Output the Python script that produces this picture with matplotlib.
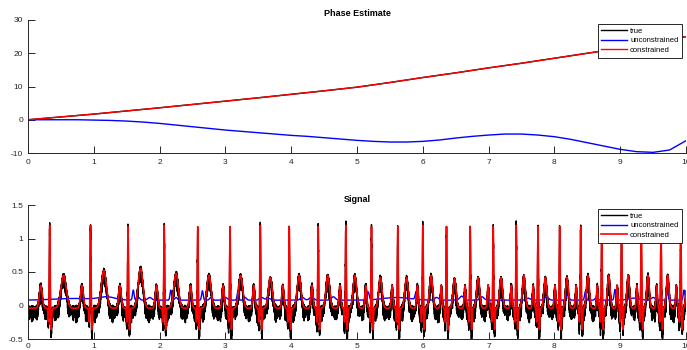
import numpy as np
import matplotlib.pyplot as plt

plt.rcParams['font.family'] = ['Liberation Sans', 'DejaVu Sans']
plt.rcParams['axes.unicode_minus'] = False

# ---- Phase Estimate (top panel) ----
phase_t = [0, 0.5, 1, 1.5, 2, 2.5, 3, 3.5, 4, 4.5, 5,
           5.5, 6, 6.5, 7, 7.5, 8, 8.5, 9, 9.5, 10]
true_phase = [0, 0.85, 1.7, 2.65, 3.6, 4.6, 5.6, 6.6, 7.65, 8.7, 9.8,
              11.2, 12.7, 14.1, 15.6, 17.0, 18.5, 20.0, 21.5, 23.2, 25.0]
constrained_phase = [0, 0.85, 1.7, 2.65, 3.6, 4.6, 5.6, 6.6, 7.65, 8.7, 9.8,
                     11.2, 12.7, 14.1, 15.6, 17.0, 18.5, 20.0, 21.5, 23.2, 25.0]
unc_t = [0, 0.25, 0.5, 0.75, 1, 1.25, 1.5, 1.75, 2, 2.25, 2.5, 2.75, 3, 3.25,
         3.5, 3.75, 4, 4.25, 4.5, 4.75, 5, 5.25, 5.5, 5.75, 6, 6.25, 6.5, 6.75,
         7, 7.25, 7.5, 7.75, 8, 8.25, 8.5, 8.75, 9, 9.25, 9.5, 9.75, 10]
unconstrained_phase = [0, 0, 0, 0, -0.1, -0.2, -0.4, -0.7, -1.1, -1.6, -2.1, -2.6,
                       -3.1, -3.5, -3.9, -4.3, -4.7, -5.0, -5.4, -5.8, -6.2, -6.5,
                       -6.7, -6.7, -6.5, -6.1, -5.5, -5.0, -4.6, -4.3, -4.3, -4.6,
                       -5.1, -5.9, -6.9, -7.9, -8.9, -9.6, -9.8, -9.1, -6.3]

# ---- Signal (bottom panel) ----
# R-peak times and heights of each beat
r_times = [0.33, 0.95, 1.52, 2.07, 2.58, 3.07, 3.53, 3.97, 4.41, 4.83, 5.22,
           5.62, 6.00, 6.36, 6.72, 7.07, 7.42, 7.75, 8.08, 8.40, 8.72, 9.02,
           9.32, 9.62, 9.92]
r_peak = [1.2, 1.2, 1.18, 1.2, 1.18, 1.18, 1.2, 1.18, 1.18, 1.2, 1.18, 1.18,
          1.2, 1.18, 1.18, 1.18, 1.2, 1.18, 1.18, 1.18, 1.2, 1.2, 1.2, 1.2, 1.2]
true_r_peak = [1.2, 1.2, 1.2, 1.22, 1.18, 1.18, 1.25, 1.18, 1.2, 1.25, 1.18, 1.2,
               1.25, 1.18, 1.2, 1.2, 1.25, 1.18, 1.2, 1.2, 1.25, 1.22, 1.22, 1.25, 1.25]
t_peak = [0.45, 0.52, 0.55, 0.48, 0.45, 0.45, 0.42, 0.45, 0.45, 0.45, 0.42, 0.42,
          0.45, 0.4, 0.42, 0.42, 0.45, 0.42, 0.42, 0.45, 0.45, 0.45, 0.45, 0.45, 0.45]
p_peak = 0.3
q_depth = -0.25
s_depth = -0.36
red_base = -0.04
true_shift = -0.01

# blue (unconstrained) bumps: time, height above base, width
blue_base = 0.08
blue_bump_t = [0.7, 1.2, 1.60, 1.68, 1.85, 2.17, 2.25, 2.65, 2.78, 3.0, 3.19,
               3.3, 3.55, 3.65, 4.17, 4.31, 4.64, 5.17, 5.6, 5.90, 6.21, 6.59,
               6.9, 7.6, 7.88, 8.2, 8.47, 8.64, 8.92, 9.2, 9.5, 9.72, 9.97]
blue_bump_h = [0.025, 0.045, 0.15, 0.04, 0.04, 0.15, 0.04, 0.14, 0.04, 0.04, 0.13,
               0.04, 0.04, 0.03, 0.04, 0.05, 0.05, 0.12, 0.04, 0.12, 0.04, 0.06,
               0.05, 0.03, 0.05, 0.08, 0.13, 0.04, 0.16, 0.03, 0.04, 0.13, 0.15]
blue_bump_w = [0.3, 0.12, 0.012, 0.02, 0.03, 0.012, 0.02, 0.012, 0.02, 0.03, 0.012,
               0.02, 0.03, 0.03, 0.03, 0.03, 0.03, 0.015, 0.2, 0.015, 0.03, 0.03,
               0.03, 0.03, 0.03, 0.02, 0.012, 0.02, 0.012, 0.08, 0.03, 0.012, 0.012]

# measurement noise seen on the true trace
noise_pattern = [0.02, -0.05, -0.11, -0.03, 0.04, -0.08, -0.14, -0.02, 0.01, -0.06,
                 -0.1, 0.03, -0.04, -0.12, -0.07, 0.02, -0.09, -0.15, -0.01, 0.03,
                 -0.05, -0.1, -0.04, 0.01, -0.13, -0.06, 0.04, -0.03, -0.09, -0.16,
                 -0.02, 0.02, -0.07, -0.11, 0.0, -0.05, -0.12, -0.03, 0.03, -0.08, -0.04]
noise_scale = [1.0, 0.6, 1.2, 0.8, 0.5, 1.1, 0.7, 1.3, 0.9, 0.6, 1.0]


def gauss(t, c, w):
    return np.exp(-0.5 * ((t - c) / w) ** 2)


def ecg(t, r_amps, base):
    rr = np.gradient(np.array(r_times))
    y = np.full_like(t, base)
    for i, tr in enumerate(r_times):
        y += (p_peak - base) * gauss(t, tr - 0.22 * rr[i], 0.035 * rr[i])
        y += (q_depth - base) * gauss(t, tr - 0.02, 0.006)
        y += (r_amps[i] - base) * gauss(t, tr, 0.006)
        y += (s_depth - base) * gauss(t, tr + 0.022, 0.007)
        y += (t_peak[i] - base) * gauss(t, tr + 0.34 * rr[i], 0.065 * rr[i])
    return y


t = np.linspace(0, 10, 20001)
constrained_sig = ecg(t, r_peak, red_base)
idx = np.arange(len(t))
noise = np.array(noise_pattern)[idx % len(noise_pattern)] * \
    np.array(noise_scale)[(idx // 50) % len(noise_scale)]
true_sig = ecg(t, true_r_peak, red_base) + true_shift + noise
unconstrained_sig = np.full_like(t, blue_base)
for c, h, w in zip(blue_bump_t, blue_bump_h, blue_bump_w):
    unconstrained_sig += h * gauss(t, c, w)

# ---- figure ----
fig = plt.figure(figsize=(6.87, 3.5), dpi=100)
W, H = 687, 350
ax1 = fig.add_axes([28 / W, 1 - 153 / H, 658 / W, 133 / H])
ax2 = fig.add_axes([28 / W, 1 - 339 / H, 658 / W, 134 / H])

ax1.plot(phase_t, true_phase, color='k', lw=1.0, label='true')
ax1.plot(unc_t, unconstrained_phase, color='#0000ff', lw=1.0, label='unconstrained')
ax1.plot(phase_t, constrained_phase, color='#ff0000', lw=1.0, label='constrained')
ax1.set_ylim(-10, 30)
ax1.set_yticks([-10, 0, 10, 20, 30])
ax1.set_title('Phase Estimate', fontsize=6.5, fontweight='bold', pad=3)

ax2.plot(t, true_sig, color='k', lw=1.0, label='true')
ax2.plot(t, unconstrained_sig, color='#0000ff', lw=1.0, label='unconstrained')
ax2.plot(t, constrained_sig, color='#ff0000', lw=1.2, label='constrained')
ax2.set_ylim(-0.5, 1.5)
ax2.set_yticks([-0.5, 0, 0.5, 1, 1.5])
ax2.set_yticklabels(['-0.5', '0', '0.5', '1', '1.5'])
ax2.set_title('Signal', fontsize=6.5, fontweight='bold', pad=2.5)

for ax, top, xpad in [(ax1, 24, 4.5), (ax2, 209, 3.0)]:
    ax.set_xlim(0, 10)
    ax.set_xticks(range(11))
    for s in ['top', 'right']:
        ax.spines[s].set_visible(False)
    for s in ['left', 'bottom']:
        ax.spines[s].set_color('#262626')
        ax.spines[s].set_linewidth(0.7)
    ax.tick_params(direction='in', length=4.75, width=0.7, colors='#262626',
                   labelsize=6)
    ax.tick_params(axis='x', pad=xpad)
    ax.tick_params(axis='y', pad=3.5)
    leg = ax.legend(loc='upper left', bbox_to_anchor=(598 / W, 1 - top / H),
                    bbox_transform=fig.transFigure, fontsize=5.5, fancybox=False,
                    edgecolor='#262626', framealpha=1, borderaxespad=0,
                    handlelength=3.3, handletextpad=0.45, labelspacing=0.3,
                    borderpad=0.45)
    leg.get_frame().set_linewidth(0.7)

fig.savefig('out.png', dpi=100)
